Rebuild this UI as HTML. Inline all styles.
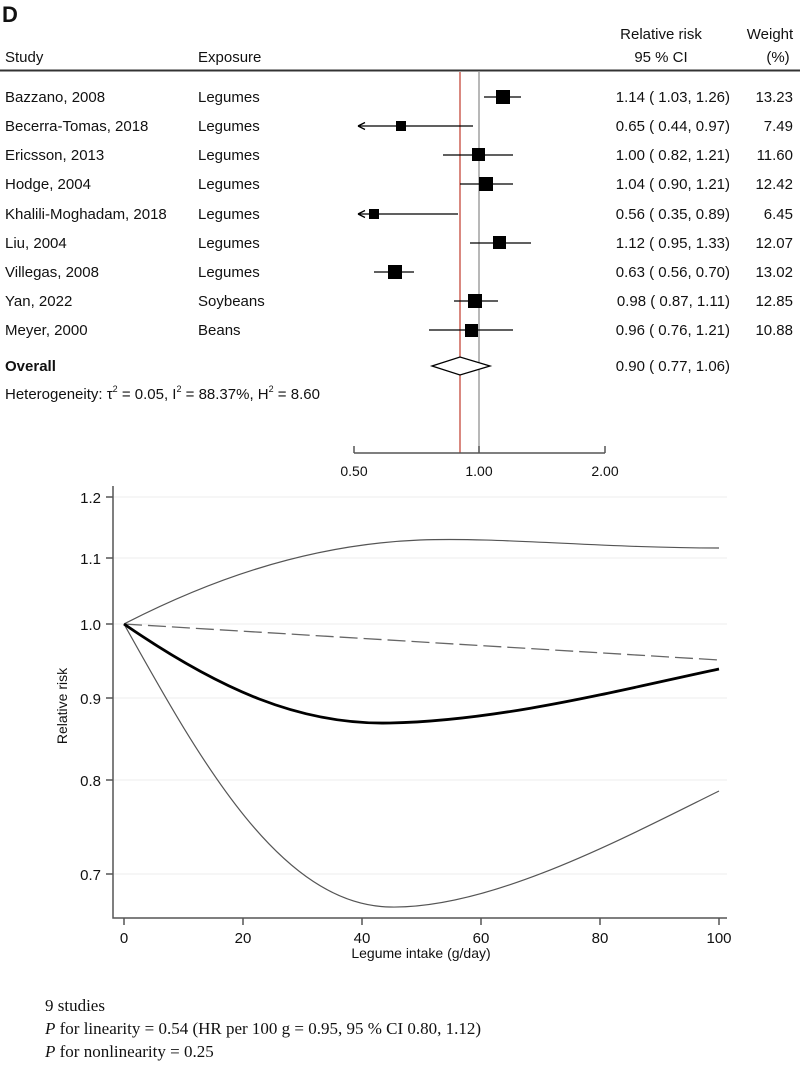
<!DOCTYPE html>
<html><head><meta charset="utf-8"><style>
body{margin:0;background:#fff;}
svg text{font-family:"Liberation Sans",sans-serif;fill:#111;}
</style></head><body>
<svg width="800" height="1076" xmlns="http://www.w3.org/2000/svg">
<text x="2" y="22" font-size="22" font-weight="bold">D</text>
<g font-size="15">
<text x="661" y="39" text-anchor="middle">Relative risk</text>
<text x="770" y="39" text-anchor="middle">Weight</text>
<text x="5" y="62">Study</text>
<text x="198" y="62">Exposure</text>
<text x="661" y="62" text-anchor="middle">95 % CI</text>
<text x="778" y="62" text-anchor="middle">(%)</text>
</g>
<line x1="0" y1="70.5" x2="800" y2="70.5" stroke="#333" stroke-width="2"/>
<line x1="479" y1="72" x2="479" y2="453" stroke="#888" stroke-width="1.2"/>
<line x1="460" y1="72" x2="460" y2="453" stroke="#c0392b" stroke-width="1.2"/>
<g font-size="15">
<text x="5" y="102">Bazzano, 2008</text><text x="198" y="102">Legumes</text><text x="730" y="102" text-anchor="end">1.14 ( 1.03,  1.26)</text><text x="793" y="102" text-anchor="end">13.23</text>
<text x="5" y="131">Becerra-Tomas, 2018</text><text x="198" y="131">Legumes</text><text x="730" y="131" text-anchor="end">0.65 ( 0.44,  0.97)</text><text x="793" y="131" text-anchor="end">7.49</text>
<text x="5" y="160">Ericsson, 2013</text><text x="198" y="160">Legumes</text><text x="730" y="160" text-anchor="end">1.00 ( 0.82,  1.21)</text><text x="793" y="160" text-anchor="end">11.60</text>
<text x="5" y="189">Hodge, 2004</text><text x="198" y="189">Legumes</text><text x="730" y="189" text-anchor="end">1.04 ( 0.90,  1.21)</text><text x="793" y="189" text-anchor="end">12.42</text>
<text x="5" y="219">Khalili-Moghadam, 2018</text><text x="198" y="219">Legumes</text><text x="730" y="219" text-anchor="end">0.56 ( 0.35,  0.89)</text><text x="793" y="219" text-anchor="end">6.45</text>
<text x="5" y="248">Liu, 2004</text><text x="198" y="248">Legumes</text><text x="730" y="248" text-anchor="end">1.12 ( 0.95,  1.33)</text><text x="793" y="248" text-anchor="end">12.07</text>
<text x="5" y="277">Villegas, 2008</text><text x="198" y="277">Legumes</text><text x="730" y="277" text-anchor="end">0.63 ( 0.56,  0.70)</text><text x="793" y="277" text-anchor="end">13.02</text>
<text x="5" y="306">Yan, 2022</text><text x="198" y="306">Soybeans</text><text x="730" y="306" text-anchor="end">0.98 ( 0.87,  1.11)</text><text x="793" y="306" text-anchor="end">12.85</text>
<text x="5" y="335">Meyer, 2000</text><text x="198" y="335">Beans</text><text x="730" y="335" text-anchor="end">0.96 ( 0.76,  1.21)</text><text x="793" y="335" text-anchor="end">10.88</text>
<text x="5" y="371" font-weight="bold">Overall</text><text x="730" y="371" text-anchor="end">0.90 ( 0.77,  1.06)</text>
<text x="5" y="399">Heterogeneity: τ<tspan font-size="9" dy="-7">2</tspan><tspan dy="7"> = 0.05, I</tspan><tspan font-size="9" dy="-7">2</tspan><tspan dy="7"> = 88.37%, H</tspan><tspan font-size="9" dy="-7">2</tspan><tspan dy="7"> = 8.60</tspan></text>
</g>
<g stroke="#000" stroke-width="1.3">
<line x1="484" y1="97" x2="521" y2="97"/><rect x="496" y="90" width="14" height="14" fill="#000" stroke="none"/>
<line x1="358" y1="126" x2="473" y2="126"/><rect x="396" y="121" width="10" height="10" fill="#000" stroke="none"/>
<line x1="443" y1="155" x2="513" y2="155"/><rect x="472" y="148" width="13" height="13" fill="#000" stroke="none"/>
<line x1="460" y1="184" x2="513" y2="184"/><rect x="479" y="177" width="14" height="14" fill="#000" stroke="none"/>
<line x1="358" y1="214" x2="458" y2="214"/><rect x="369" y="209" width="10" height="10" fill="#000" stroke="none"/>
<line x1="470" y1="243" x2="531" y2="243"/><rect x="493" y="236" width="13" height="13" fill="#000" stroke="none"/>
<line x1="374" y1="272" x2="414" y2="272"/><rect x="388" y="265" width="14" height="14" fill="#000" stroke="none"/>
<line x1="454" y1="301" x2="498" y2="301"/><rect x="468" y="294" width="14" height="14" fill="#000" stroke="none"/>
<line x1="429" y1="330" x2="513" y2="330"/><rect x="465" y="324" width="13" height="13" fill="#000" stroke="none"/>
</g>
<path d="M358,126 l7,-3.5 M358,126 l7,3.5 M358,214 l7,-3.5 M358,214 l7,3.5" stroke="#000" stroke-width="1.3"/>
<polygon points="432,366 460,357 490,366 460,375" fill="#fff" stroke="#000" stroke-width="1.3"/>
<g stroke="#555" stroke-width="1.5"><line x1="354" y1="453" x2="605" y2="453"/><line x1="354" y1="446" x2="354" y2="453"/><line x1="479" y1="446" x2="479" y2="453"/><line x1="605" y1="446" x2="605" y2="453"/></g>
<g font-size="14"><text x="354" y="476" text-anchor="middle">0.50</text><text x="479" y="476" text-anchor="middle">1.00</text><text x="605" y="476" text-anchor="middle">2.00</text></g>

<g stroke="#eee" stroke-width="1"><line x1="114" y1="497" x2="727" y2="497"/><line x1="114" y1="558" x2="727" y2="558"/><line x1="114" y1="624" x2="727" y2="624"/><line x1="114" y1="698" x2="727" y2="698"/><line x1="114" y1="780" x2="727" y2="780"/><line x1="114" y1="874" x2="727" y2="874"/></g>
<g stroke="#555" stroke-width="1.5" fill="none">
<path d="M113,486 V918 H727"/>
<path d="M106,497h7M106,558h7M106,624h7M106,698h7M106,780h7M106,874h7"/>
<path d="M124,918v7M243,918v7M362,918v7M481,918v7M600,918v7M719,918v7"/>
</g>
<g font-size="15">
<text x="101" y="503" text-anchor="end">1.2</text><text x="101" y="564" text-anchor="end">1.1</text><text x="101" y="630" text-anchor="end">1.0</text><text x="101" y="704" text-anchor="end">0.9</text><text x="101" y="786" text-anchor="end">0.8</text><text x="101" y="880" text-anchor="end">0.7</text>
<text x="124" y="943" text-anchor="middle">0</text><text x="243" y="943" text-anchor="middle">20</text><text x="362" y="943" text-anchor="middle">40</text><text x="481" y="943" text-anchor="middle">60</text><text x="600" y="943" text-anchor="middle">80</text><text x="719" y="943" text-anchor="middle">100</text>
<text x="421" y="958" text-anchor="middle" font-size="14">Legume intake (g/day)</text>
<text transform="translate(67,706) rotate(-90)" text-anchor="middle" font-size="14">Relative risk</text>
</g>
<g fill="none">
<path d="M124,624 C200,585 300,545 420,540 C500,537 600,548 719,548" stroke="#555" stroke-width="1.2"/>
<path d="M124,624 C200,760 280,905 390,907 C490,909 620,840 719,791" stroke="#555" stroke-width="1.2"/>
<path d="M124,624 L719,660" stroke="#666" stroke-width="1.3" stroke-dasharray="18,6"/>
<path d="M124,624 C220,690 300,725 390,723 C500,721 620,690 719,669" stroke="#000" stroke-width="2.8"/>
</g>
<g font-size="17">
<text x="45" y="1011" style="font-family:'Liberation Serif',serif">9 studies</text>
<text x="45" y="1034" style="font-family:'Liberation Serif',serif"><tspan font-style="italic">P</tspan> for linearity = 0.54 (HR per 100 g = 0.95, 95 % CI 0.80, 1.12)</text>
<text x="45" y="1057" style="font-family:'Liberation Serif',serif"><tspan font-style="italic">P</tspan> for nonlinearity = 0.25</text>
</g>
</svg>
</body></html>
